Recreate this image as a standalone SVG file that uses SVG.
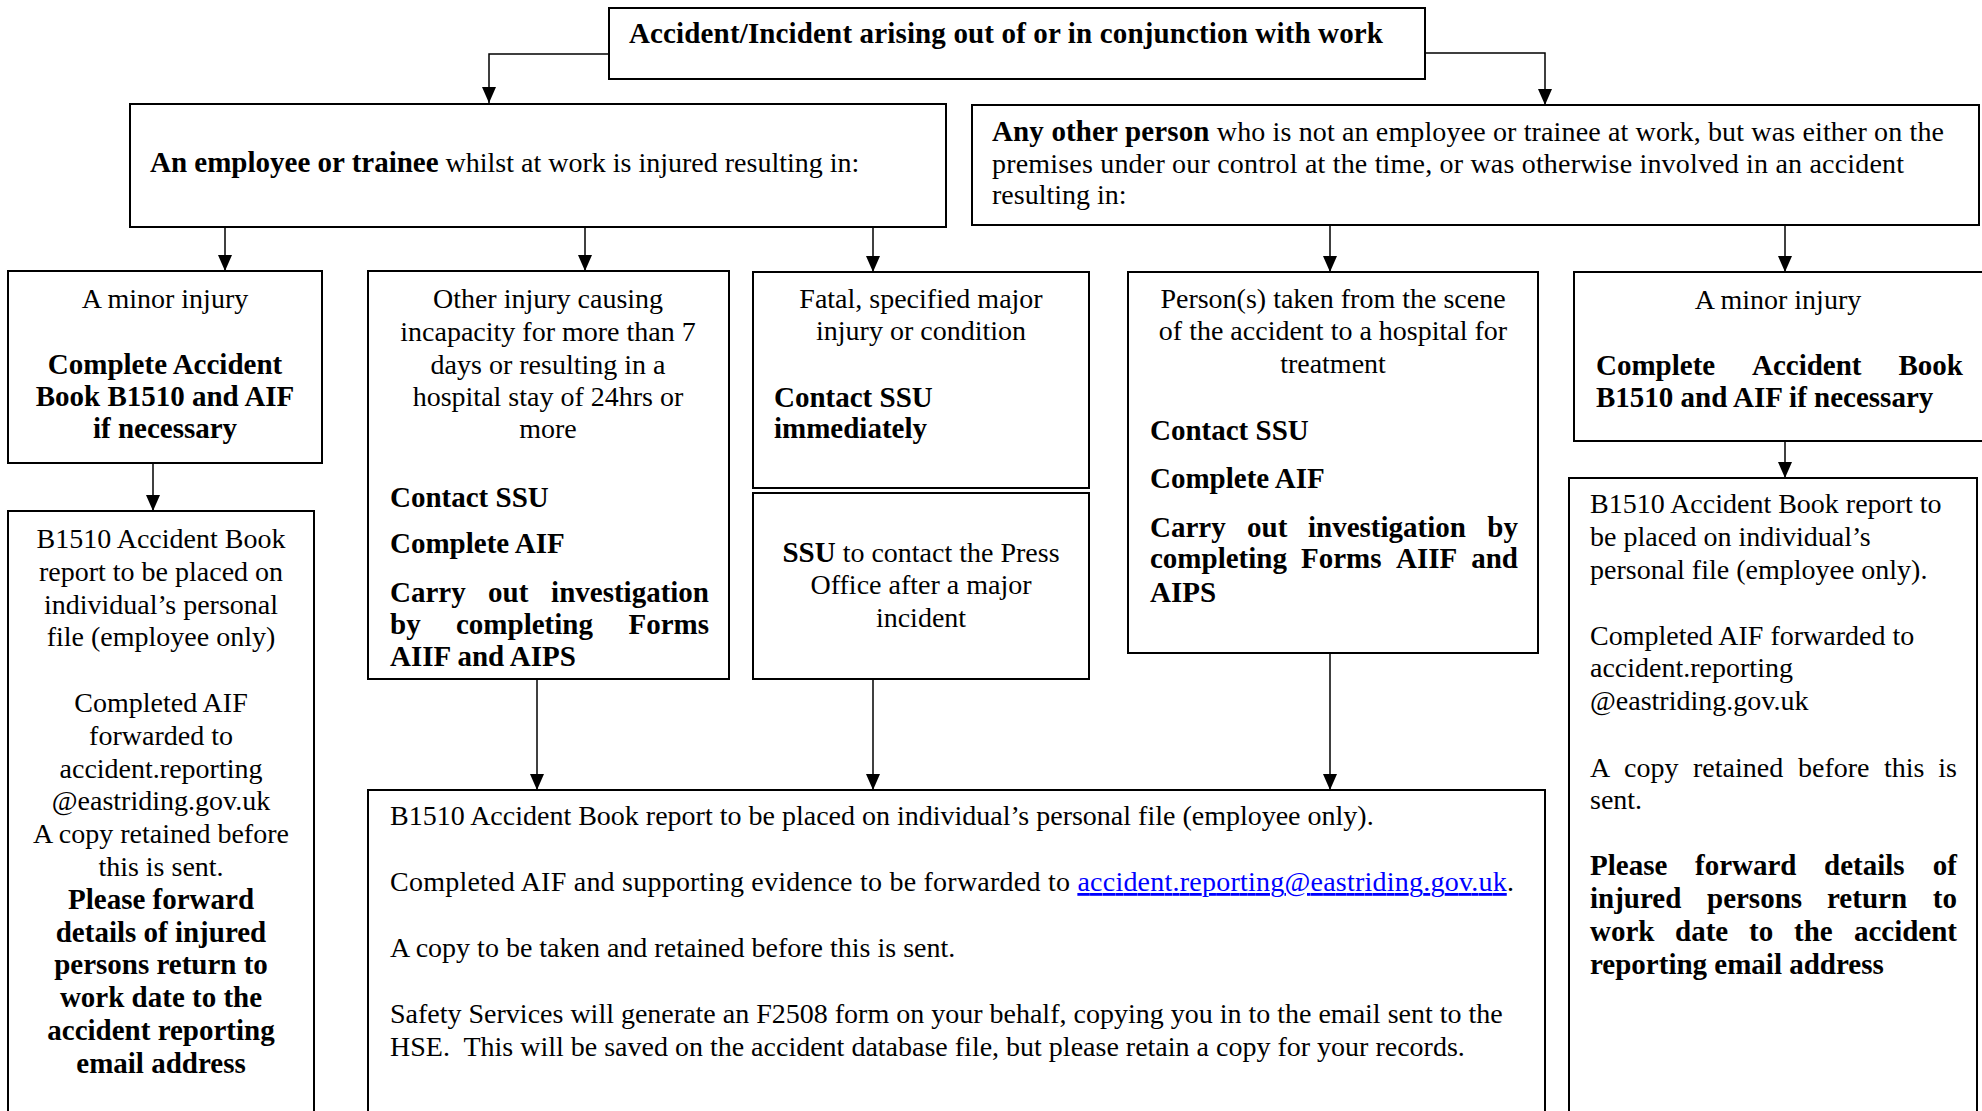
<svg xmlns="http://www.w3.org/2000/svg" width="1982" height="1111" viewBox="0 0 1982 1111">
<style>
.box{fill:#fff;stroke:#000;stroke-width:2}
.c{fill:none;stroke:#000;stroke-width:1.5;marker-end:url(#arr)}
text{font-family:"Liberation Serif","Times New Roman",serif;font-size:28px;fill:#000}
.b{font-weight:bold;font-size:29px}
.m{text-anchor:middle}
.e{text-anchor:end}
.link{fill:#0000ff;text-decoration:underline}
</style>
<defs>
<marker id="arr" markerUnits="userSpaceOnUse" viewBox="0 0 16 14" markerWidth="16" markerHeight="14" refX="16" refY="7" orient="auto">
<path d="M0,0 L16,7 L0,14 z" fill="#000"/>
</marker>
</defs>
<rect width="1982" height="1111" fill="#fff"/>

<g id="connectors">
<path class="c" d="M609,54 H489 V103"/>
<path class="c" d="M1425,53 H1545 V105"/>
<path class="c" d="M225,227 V271"/>
<path class="c" d="M585,227 V271"/>
<path class="c" d="M873,227 V272"/>
<path class="c" d="M1330,225 V272"/>
<path class="c" d="M1785,225 V272"/>
<path class="c" d="M153,463 V511"/>
<path class="c" d="M1785,441 V478"/>
<path class="c" d="M537,679 V790"/>
<path class="c" d="M873,679 V790"/>
<path class="c" d="M1330,653 V790"/>
</g>

<g id="top">
<rect class="box" x="609" y="8" width="816" height="71"/>
<text class="b" x="629" y="43" textLength="754">Accident/Incident arising out of or in conjunction with work</text>
</g>

<g id="employee">
<rect class="box" x="130" y="104" width="816" height="123"/>
<text x="150" y="172"><tspan class="b">An employee or trainee</tspan> whilst at work is injured resulting in:</text>
</g>

<g id="other-person">
<rect class="box" x="972" y="105" width="1007" height="120"/>
<text x="992" y="141" textLength="952"><tspan class="b">Any other person</tspan> who is not an employee or trainee at work, but was either on the</text>
<text x="992" y="173" textLength="912">premises under our control at the time, or was otherwise involved in an accident</text>
<text x="992" y="204">resulting in:</text>
</g>

<g id="minor-left">
<rect class="box" x="8" y="271" width="314" height="192"/>
<text class="m" x="165" y="308">A minor injury</text>
<text class="b m" x="165" y="374">Complete Accident</text>
<text class="b m" x="165" y="406">Book B1510 and AIF</text>
<text class="b m" x="165" y="438">if necessary</text>
</g>

<g id="other-injury">
<rect class="box" x="368" y="271" width="361" height="408"/>
<text class="m" x="548" y="308">Other injury causing</text>
<text class="m" x="548" y="341">incapacity for more than 7</text>
<text class="m" x="548" y="374">days or resulting in a</text>
<text class="m" x="548" y="406">hospital stay of 24hrs or</text>
<text class="m" x="548" y="438">more</text>
<text class="b" x="390" y="507">Contact SSU</text>
<text class="b" x="390" y="553">Complete AIF</text>
<text class="b" x="390" y="602">Carry</text>
<text class="b" x="488" y="602">out</text>
<text class="b e" x="709" y="602">investigation</text>
<text class="b" x="390" y="634">by</text>
<text class="b" x="456" y="634">completing</text>
<text class="b e" x="709" y="634">Forms</text>
<text class="b" x="390" y="666">AIIF and AIPS</text>
</g>

<g id="fatal">
<rect class="box" x="753" y="272" width="336" height="216"/>
<text class="m" x="921" y="308">Fatal, specified major</text>
<text class="m" x="921" y="340">injury or condition</text>
<text class="b" x="774" y="407">Contact SSU</text>
<text class="b" x="774" y="438">immediately</text>
</g>

<g id="press">
<rect class="box" x="753" y="493" width="336" height="186"/>
<text class="m" x="921" y="562"><tspan class="b">SSU</tspan> to contact the Press</text>
<text class="m" x="921" y="594">Office after a major</text>
<text class="m" x="921" y="627">incident</text>
</g>

<g id="hospital">
<rect class="box" x="1128" y="272" width="410" height="381"/>
<text class="m" x="1333" y="308">Person(s) taken from the scene</text>
<text class="m" x="1333" y="340">of the accident to a hospital for</text>
<text class="m" x="1333" y="373">treatment</text>
<text class="b" x="1150" y="440">Contact SSU</text>
<text class="b" x="1150" y="488">Complete AIF</text>
<text class="b" x="1150" y="537">Carry</text>
<text class="b" x="1247" y="537">out</text>
<text class="b" x="1308" y="537">investigation</text>
<text class="b e" x="1518" y="537">by</text>
<text class="b" x="1150" y="568">completing</text>
<text class="b" x="1301" y="568">Forms</text>
<text class="b" x="1396" y="568">AIIF</text>
<text class="b e" x="1518" y="568">and</text>
<text class="b" x="1150" y="602">AIPS</text>
</g>

<g id="minor-right">
<rect class="box" x="1574" y="272" width="420" height="169"/>
<text class="m" x="1778" y="309">A minor injury</text>
<text class="b" x="1596" y="375">Complete</text>
<text class="b" x="1752" y="375">Accident</text>
<text class="b e" x="1963" y="375">Book</text>
<text class="b" x="1596" y="407">B1510 and AIF if necessary</text>
</g>

<g id="report-left">
<rect class="box" x="8" y="511" width="306" height="620"/>
<text class="m" x="161" y="548">B1510 Accident Book</text>
<text class="m" x="161" y="581">report to be placed on</text>
<text class="m" x="161" y="614">individual’s personal</text>
<text class="m" x="161" y="646">file (employee only)</text>
<text class="m" x="161" y="712">Completed AIF</text>
<text class="m" x="161" y="745">forwarded to</text>
<text class="m" x="161" y="778">accident.reporting</text>
<text class="m" x="161" y="810">@eastriding.gov.uk</text>
<text class="m" x="161" y="843">A copy retained before</text>
<text class="m" x="161" y="876">this is sent.</text>
<text class="b m" x="161" y="909">Please forward</text>
<text class="b m" x="161" y="942">details of injured</text>
<text class="b m" x="161" y="974">persons return to</text>
<text class="b m" x="161" y="1007">work date to the</text>
<text class="b m" x="161" y="1040">accident reporting</text>
<text class="b m" x="161" y="1073">email address</text>
</g>

<g id="report-centre">
<rect class="box" x="368" y="790" width="1177" height="340"/>
<text x="390" y="825">B1510 Accident Book report to be placed on individual’s personal file (employee only).</text>
<text x="390" y="891" textLength="1124">Completed AIF and supporting evidence to be forwarded to <tspan class="link">accident.reporting@eastriding.gov.uk</tspan>.</text>
<text x="390" y="957">A copy to be taken and retained before this is sent.</text>
<text x="390" y="1023">Safety Services will generate an F2508 form on your behalf, copying you in to the email sent to the</text>
<text x="390" y="1056">HSE.&#160; This will be saved on the accident database file, but please retain a copy for your records.</text>
</g>

<g id="report-right">
<rect class="box" x="1569" y="478" width="408" height="650"/>
<text x="1590" y="513">B1510 Accident Book report to</text>
<text x="1590" y="546">be placed on individual’s</text>
<text x="1590" y="579">personal file (employee only).</text>
<text x="1590" y="645">Completed AIF forwarded to</text>
<text x="1590" y="677">accident.reporting</text>
<text x="1590" y="710">@eastriding.gov.uk</text>
<text x="1590" y="777">A</text>
<text x="1624" y="777">copy</text>
<text x="1693" y="777">retained</text>
<text x="1798" y="777">before</text>
<text x="1884" y="777">this</text>
<text class="e" x="1957" y="777">is</text>
<text x="1590" y="809">sent.</text>
<text class="b" x="1590" y="875">Please</text>
<text class="b" x="1695" y="875">forward</text>
<text class="b" x="1824" y="875">details</text>
<text class="b e" x="1957" y="875">of</text>
<text class="b" x="1590" y="908">injured</text>
<text class="b" x="1707" y="908">persons</text>
<text class="b" x="1827" y="908">return</text>
<text class="b e" x="1957" y="908">to</text>
<text class="b" x="1590" y="941">work</text>
<text class="b" x="1675" y="941">date</text>
<text class="b" x="1749" y="941">to</text>
<text class="b" x="1794" y="941">the</text>
<text class="b e" x="1957" y="941">accident</text>
<text class="b" x="1590" y="974">reporting email address</text>
</g>
</svg>
